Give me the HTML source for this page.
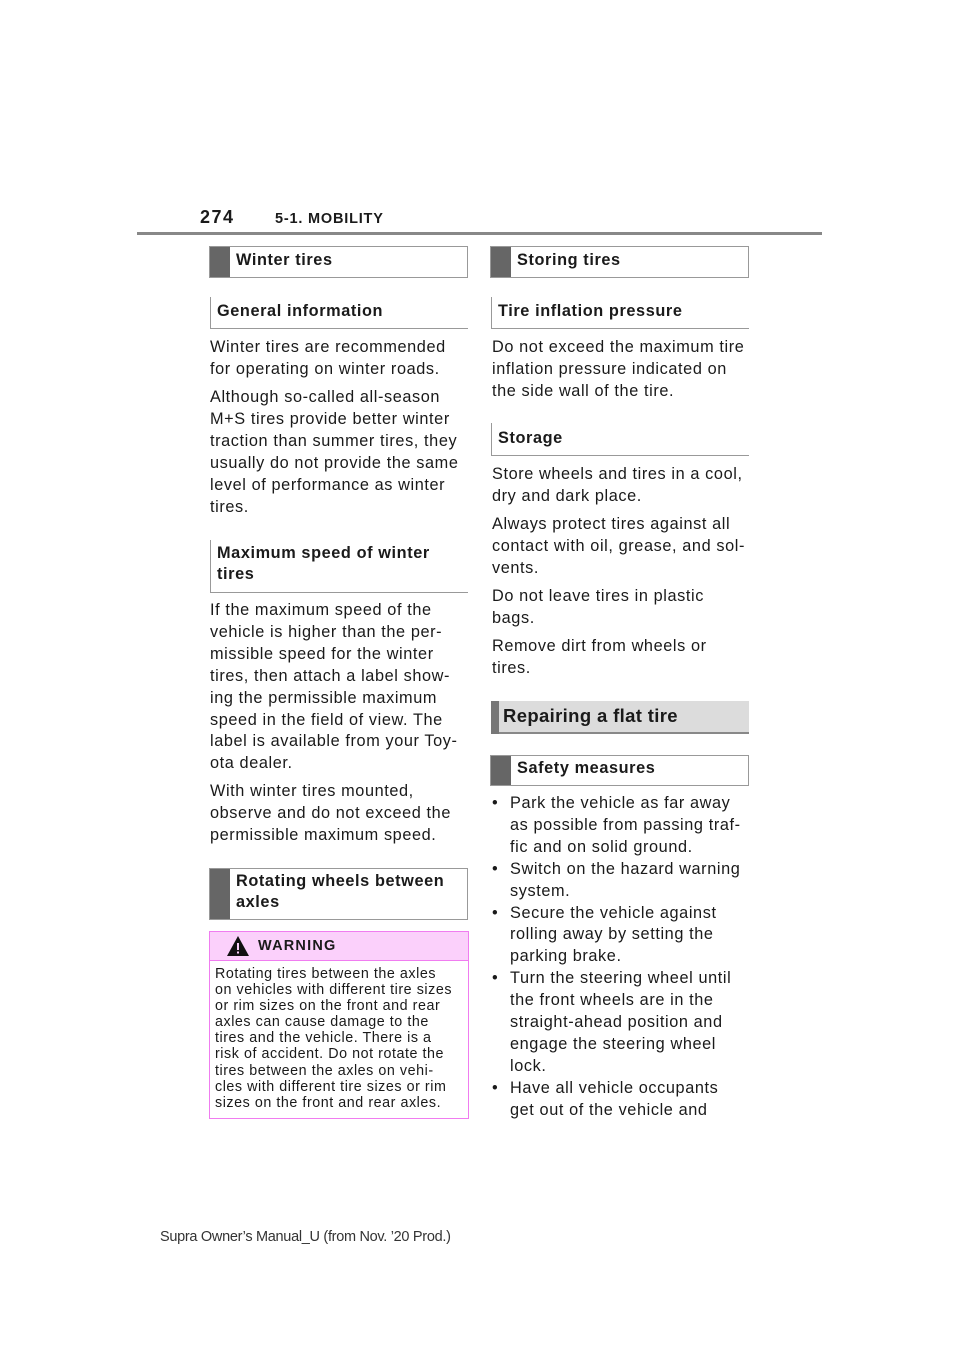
<!DOCTYPE html>
<html><head><meta charset="utf-8"><style>
body{margin:0;width:960px;height:1358px;background:#fff;position:relative;font-family:"Liberation Sans",sans-serif;color:#1a1a1a;overflow:hidden}
.a{position:absolute;white-space:nowrap}
.t{position:absolute;font-size:16.3px;line-height:21.9px;white-space:nowrap;letter-spacing:0.6px}
.box{position:absolute;border:1px solid #999;box-sizing:border-box;background:#fff}
.bar{position:absolute;left:0;top:0;bottom:0;width:20px;background:#666}
.hb{position:absolute;font-weight:bold;font-size:16.3px;line-height:21px;white-space:nowrap;letter-spacing:0.6px}
.sub{position:absolute;border-left:1px solid #999;border-bottom:1px solid #999;box-sizing:border-box}
</style></head><body>
<div class="a" style="left:200px;top:207px;font-weight:bold;font-size:18px;letter-spacing:1.5px">274</div>
<div class="a" style="left:275px;top:211px;font-weight:bold;font-size:14.5px;letter-spacing:0.8px">5-1. MOBILITY</div>
<div class="a" style="left:137px;top:232px;width:685px;height:3px;background:#888"></div>

<!-- left column -->
<div class="box" style="left:209px;top:246px;width:259px;height:32px"><div class="bar"></div></div>
<div class="hb" style="left:236px;top:250px">Winter tires</div>
<div class="sub" style="left:210px;top:297px;width:258px;height:32px"></div>
<div class="hb" style="left:217px;top:301px">General information</div>
<div class="t" style="left:210px;top:337px">Winter tires are recommended<br>for operating on winter roads.</div>
<div class="t" style="left:210px;top:387px">Although so-called all-season<br>M+S tires provide better winter<br>traction than summer tires, they<br>usually do not provide the same<br>level of performance as winter<br>tires.</div>
<div class="sub" style="left:210px;top:540px;width:258px;height:53px"></div>
<div class="hb" style="left:217px;top:543px">Maximum speed of winter<br>tires</div>
<div class="t" style="left:210px;top:600px">If the maximum speed of the<br>vehicle is higher than the per-<br>missible speed for the winter<br>tires, then attach a label show-<br>ing the permissible maximum<br>speed in the field of view. The<br>label is available from your Toy-<br>ota dealer.</div>
<div class="t" style="left:210px;top:781px">With winter tires mounted,<br>observe and do not exceed the<br>permissible maximum speed.</div>
<div class="box" style="left:209px;top:868px;width:259px;height:52px"><div class="bar"></div></div>
<div class="hb" style="left:236px;top:871px">Rotating wheels between<br>axles</div>
<div class="a" style="left:209px;top:931px;width:260px;height:188px;border:1px solid #f07cf0;box-sizing:border-box"></div>
<div class="a" style="left:210px;top:932px;width:258px;height:28px;background:#fbd0fb;border-bottom:1px solid #f07cf0"></div>
<svg class="a" style="left:226px;top:935px" width="24" height="22"><polygon points="12,1 23,21 1,21" fill="#111"/><rect x="11" y="8" width="2" height="7" fill="#fbd0fb"/><rect x="11" y="16.5" width="2" height="2" fill="#fbd0fb"/></svg>
<div class="a" style="left:258px;top:938px;font-weight:bold;font-size:14.5px;letter-spacing:1.2px">WARNING</div>
<div class="a" style="left:215px;top:966px;font-size:14.3px;line-height:16.1px;letter-spacing:0.55px">Rotating tires between the axles<br>on vehicles with different tire sizes<br>or rim sizes on the front and rear<br>axles can cause damage to the<br>tires and the vehicle. There is a<br>risk of accident. Do not rotate the<br>tires between the axles on vehi-<br>cles with different tire sizes or rim<br>sizes on the front and rear axles.</div>

<!-- right column -->
<div class="box" style="left:490px;top:246px;width:259px;height:32px"><div class="bar"></div></div>
<div class="hb" style="left:517px;top:250px">Storing tires</div>
<div class="sub" style="left:491px;top:297px;width:258px;height:32px"></div>
<div class="hb" style="left:498px;top:301px">Tire inflation pressure</div>
<div class="t" style="left:492px;top:337px">Do not exceed the maximum tire<br>inflation pressure indicated on<br>the side wall of the tire.</div>
<div class="sub" style="left:491px;top:423px;width:258px;height:33px"></div>
<div class="hb" style="left:498px;top:428px">Storage</div>
<div class="t" style="left:492px;top:464px">Store wheels and tires in a cool,<br>dry and dark place.</div>
<div class="t" style="left:492px;top:514px">Always protect tires against all<br>contact with oil, grease, and sol-<br>vents.</div>
<div class="t" style="left:492px;top:586px">Do not leave tires in plastic<br>bags.</div>
<div class="t" style="left:492px;top:636px">Remove dirt from wheels or<br>tires.</div>
<div class="a" style="left:491px;top:701px;width:258px;height:33px;background:#dcdcdc;border-bottom:2px solid #888;box-sizing:border-box"></div>
<div class="a" style="left:491px;top:701px;width:8px;height:33px;background:#777"></div>
<div class="a" style="left:503px;top:705px;font-weight:bold;font-size:18.5px;letter-spacing:0.35px">Repairing a flat tire</div>
<div class="box" style="left:490px;top:755px;width:259px;height:31px"><div class="bar"></div></div>
<div class="hb" style="left:517px;top:758px">Safety measures</div>
<div class="t" style="left:492px;top:793px">•<br><br><br>•<br><br>•<br><br><br>•<br><br><br><br><br>•</div>
<div class="t" style="left:510px;top:793px">Park the vehicle as far away<br>as possible from passing traf-<br>fic and on solid ground.<br>Switch on the hazard warning<br>system.<br>Secure the vehicle against<br>rolling away by setting the<br>parking brake.<br>Turn the steering wheel until<br>the front wheels are in the<br>straight-ahead position and<br>engage the steering wheel<br>lock.<br>Have all vehicle occupants<br>get out of the vehicle and</div>

<div class="a" style="left:160px;top:1229px;font-size:14.5px;color:#333;letter-spacing:-0.3px">Supra Owner’s Manual_U (from Nov. ’20 Prod.)</div>
</body></html>
